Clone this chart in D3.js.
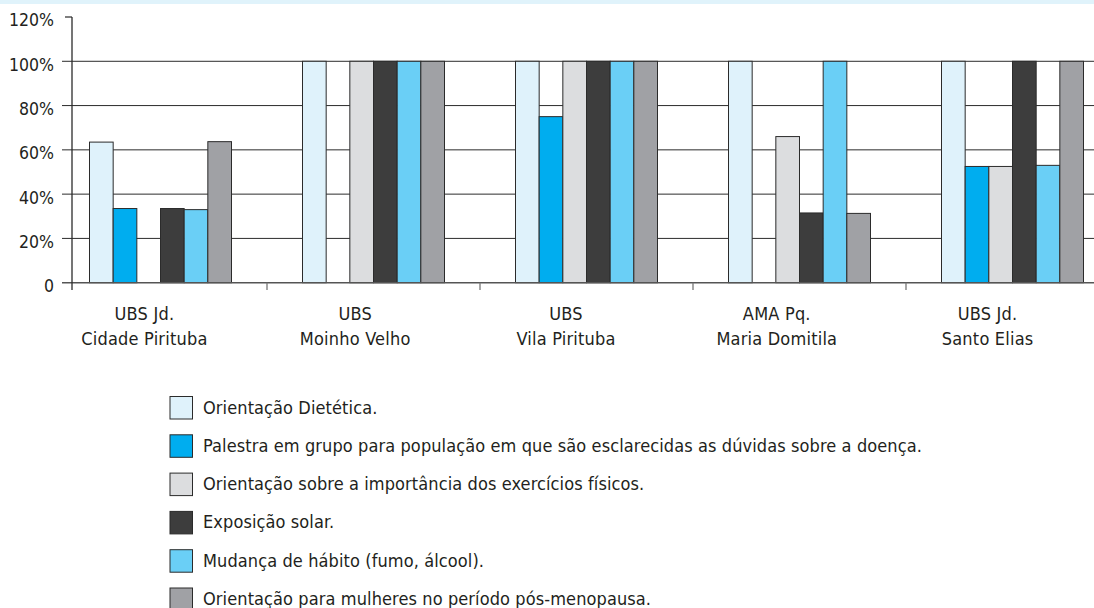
<!DOCTYPE html>
<html>
<head>
<meta charset="utf-8">
<script src="https://cdn.jsdelivr.net/npm/d3@7/dist/d3.min.js"></script>
<style>
  html, body { margin: 0; padding: 0; background: #ffffff; }
  svg { display: block; }
  text { font-family: "DejaVu Sans Condensed", "DejaVu Sans", sans-serif; font-stretch: condensed; fill: #231f20; }
</style>
</head>
<body>
<svg id="chart" width="1094" height="608"></svg>
<script>
// Health units (two-line labels)
const units = [
  ["UBS Jd.", "Cidade Pirituba"],
  ["UBS", "Moinho Velho"],
  ["UBS", "Vila Pirituba"],
  ["AMA Pq.", "Maria Domitila"],
  ["UBS Jd.", "Santo Elias"]
];

// Orientation types (series)
const orientations = [
  "Orientação Dietética.",
  "Palestra em grupo para população em que são esclarecidas as dúvidas sobre a doença.",
  "Orientação sobre a importância dos exercícios físicos.",
  "Exposição solar.",
  "Mudança de hábito (fumo, álcool).",
  "Orientação para mulheres no período pós-menopausa."
];

// Percentage per unit, one array per orientation type
const dietetica   = [63.5, 100, 100, 100, 100];
const palestra    = [33.5,   0,  75,   0, 52.5];
const exercicios  = [   0, 100, 100,  66, 52.5];
const exposicao   = [33.5, 100, 100, 31.5, 100];
const mudanca     = [  33, 100, 100, 100,  53];
const posMenop    = [63.7, 100, 100, 31.3, 100];

const seriesValues = [dietetica, palestra, exercicios, exposicao, mudanca, posMenop];
const seriesColors = ["#dff2fb", "#00adef", "#dcdddf", "#3d3d3d", "#6acff6", "#a0a1a5"];

const yTicks = [0, 20, 40, 60, 80, 100, 120];

const svg = d3.select("#chart");

// thin light-blue band across the top
svg.append("rect").attr("x", 0).attr("y", 0).attr("width", 1094).attr("height", 4).attr("fill", "#e0f3fb");

const axisX = 72;
const y = d3.scaleLinear().domain([0, 120]).range([282.7, 17]);

const x0 = d3.scaleBand().domain(d3.range(units.length)).range([54, 1119]).paddingInner(0).paddingOuter(0);
const x1 = d3.scaleBand().domain(d3.range(orientations.length)).range([0, x0.bandwidth()]).paddingInner(0).paddingOuter(1.5);
// category labels sit on their own slightly tighter band
const xLabel = d3.scaleBand().domain(d3.range(units.length)).range([39, 1093]);

// horizontal grid lines
const grid = svg.append("g");
grid.selectAll("line").data(yTicks.filter(t => t > 0 && t < 120)).join("line")
  .attr("x1", 62).attr("x2", 1094)
  .attr("y1", d => y(d)).attr("y2", d => y(d))
  .attr("stroke", "#2b2b2b").attr("stroke-width", 1);

// top tick at 120%
svg.append("line").attr("x1", 65).attr("x2", axisX).attr("y1", y(120)).attr("y2", y(120))
  .attr("stroke", "#2b2b2b").attr("stroke-width", 1.2);

// y-axis labels
svg.append("g").selectAll("text").data(yTicks).join("text")
  .attr("x", 54).attr("y", d => y(d) + 9.4)
  .attr("text-anchor", "end")
  .style("font-size", "17.5px")
  .text(d => d === 0 ? "0" : d + "%");

// bars
const groups = svg.append("g").selectAll("g").data(units).join("g")
  .attr("transform", (d, i) => `translate(${x0(i)},0)`);

groups.selectAll("rect")
  .data((d, i) => seriesValues.map((vals, s) => ({ s, v: vals[i] })).filter(e => e.v > 0))
  .join("rect")
  .attr("x", e => x1(e.s))
  .attr("y", e => y(e.v))
  .attr("width", x1.bandwidth())
  .attr("height", e => y(0) - y(e.v))
  .attr("fill", e => seriesColors[e.s])
  .attr("stroke", "#2b2b2b")
  .attr("stroke-width", 1);

// x axis line, y axis line and category ticks
svg.append("line").attr("x1", 62).attr("x2", 1094).attr("y1", y(0)).attr("y2", y(0))
  .attr("stroke", "#555").attr("stroke-width", 1.6);
svg.append("line").attr("x1", axisX).attr("x2", axisX).attr("y1", y(120)).attr("y2", 290)
  .attr("stroke", "#2b2b2b").attr("stroke-width", 1.3);
svg.append("g").selectAll("line").data(d3.range(1, units.length)).join("line")
  .attr("x1", i => x0(i)).attr("x2", i => x0(i))
  .attr("y1", y(0)).attr("y2", 290)
  .attr("stroke", "#777").attr("stroke-width", 1.3);

// category labels
const cat = svg.append("g").selectAll("text").data(units).join("text")
  .attr("text-anchor", "middle")
  .style("font-size", "18px")
  .style("letter-spacing", "0.2px");
cat.append("tspan").attr("x", (d, i) => xLabel(i) + xLabel.bandwidth() / 2).attr("y", 319.5).text(d => d[0]);
cat.append("tspan").attr("x", (d, i) => xLabel(i) + xLabel.bandwidth() / 2).attr("y", 345).text(d => d[1]);

// legend
const legend = svg.append("g").selectAll("g").data(orientations).join("g")
  .attr("transform", (d, i) => `translate(170,${396.5 + i * 38.3})`);
legend.append("rect")
  .attr("width", 22.5).attr("height", 22.5)
  .attr("fill", (d, i) => seriesColors[i])
  .attr("stroke", "#2b2b2b").attr("stroke-width", 1);
legend.append("text")
  .attr("x", 33).attr("y", 17)
  .style("font-size", "18px")
  .style("letter-spacing", "0.1px")
  .text(d => d);
</script>
</body>
</html>
